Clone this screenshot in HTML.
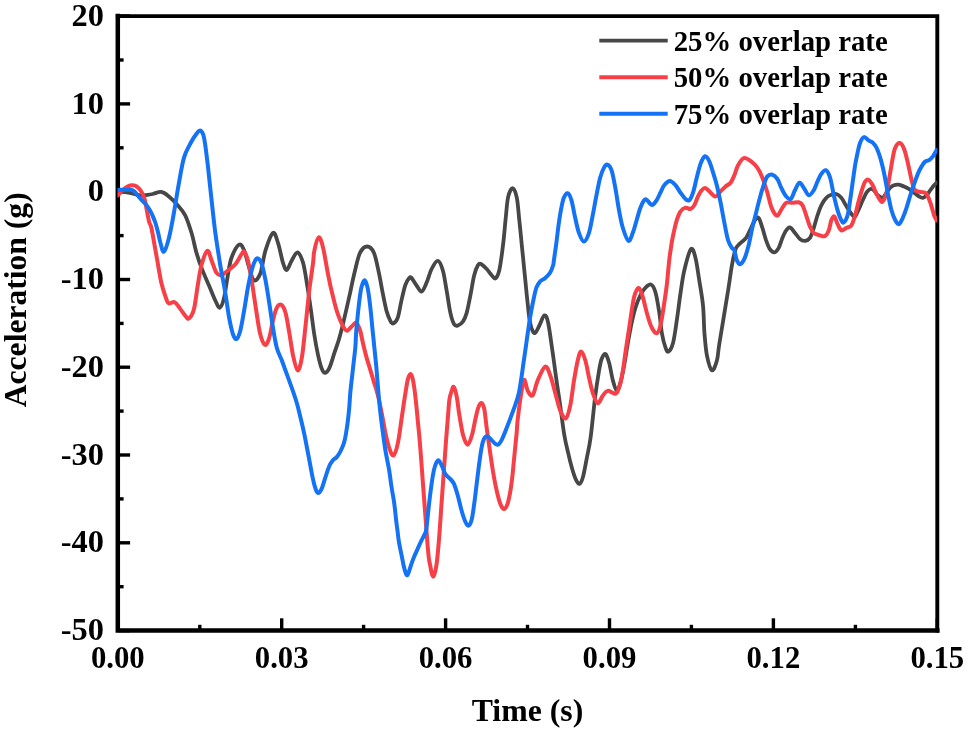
<!DOCTYPE html>
<html lang="en">
<head>
<meta charset="utf-8">
<title>Acceleration vs Time</title>
<style>
html,body{margin:0;padding:0;background:#fff;}
body{width:968px;height:734px;overflow:hidden;}
svg{display:block;filter:blur(0.45px);}
text{font-family:"Liberation Serif", "DejaVu Serif", serif;font-weight:bold;fill:#000;}
.ax{font-size:32.4px;}
.lg{font-size:29.6px;}
</style>
</head>
<body>
<svg width="968" height="734" viewBox="0 0 968 734">
<rect width="968" height="734" fill="#fff"/>
<defs><clipPath id="pc"><rect x="117.5" y="16.1" width="819.8" height="614.5"/></clipPath></defs>
<g stroke="#000" stroke-width="3.4" fill="none">
<line x1="117.8" y1="630.6" x2="117.8" y2="618.3"/>
<line x1="199.8" y1="630.6" x2="199.8" y2="624.8"/>
<line x1="281.7" y1="630.6" x2="281.7" y2="618.3"/>
<line x1="363.6" y1="630.6" x2="363.6" y2="624.8"/>
<line x1="445.6" y1="630.6" x2="445.6" y2="618.3"/>
<line x1="527.5" y1="630.6" x2="527.5" y2="624.8"/>
<line x1="609.5" y1="630.6" x2="609.5" y2="618.3"/>
<line x1="691.4" y1="630.6" x2="691.4" y2="624.8"/>
<line x1="773.4" y1="630.6" x2="773.4" y2="618.3"/>
<line x1="855.4" y1="630.6" x2="855.4" y2="624.8"/>
<line x1="937.3" y1="630.6" x2="937.3" y2="618.3"/>
<line x1="117.8" y1="16.1" x2="130.1" y2="16.1"/>
<line x1="117.8" y1="60.0" x2="123.6" y2="60.0"/>
<line x1="117.8" y1="103.9" x2="130.1" y2="103.9"/>
<line x1="117.8" y1="147.8" x2="123.6" y2="147.8"/>
<line x1="117.8" y1="191.7" x2="130.1" y2="191.7"/>
<line x1="117.8" y1="235.6" x2="123.6" y2="235.6"/>
<line x1="117.8" y1="279.5" x2="130.1" y2="279.5"/>
<line x1="117.8" y1="323.4" x2="123.6" y2="323.4"/>
<line x1="117.8" y1="367.2" x2="130.1" y2="367.2"/>
<line x1="117.8" y1="411.1" x2="123.6" y2="411.1"/>
<line x1="117.8" y1="455.0" x2="130.1" y2="455.0"/>
<line x1="117.8" y1="498.9" x2="123.6" y2="498.9"/>
<line x1="117.8" y1="542.8" x2="130.1" y2="542.8"/>
<line x1="117.8" y1="586.7" x2="123.6" y2="586.7"/>
<line x1="117.8" y1="630.6" x2="130.1" y2="630.6"/>
</g>
<g stroke="#000" fill="none" stroke-linecap="square">
<path stroke-width="3.9" d="M117.8 16.1H937.3V630.6"/>
<path stroke-width="4.5" d="M117.8 16.1V630.6H937.3"/>
</g>
<g fill="none" stroke-linejoin="round" stroke-linecap="round" stroke-width="3.6" clip-path="url(#pc)">
<path stroke="#474747" stroke-width="3.8" d="M117.8 192.5C119.0 192.4 122.6 191.8 125.0 192.0C127.4 192.2 129.7 193.0 132.0 193.5C134.3 194.0 136.9 194.9 139.0 195.2C141.1 195.5 143.6 195.4 144.6 195.4C145.6 195.4 143.8 195.5 145.1 195.2C146.4 195.0 149.9 194.5 152.6 194.0C155.3 193.4 158.7 191.5 161.4 192.0C164.1 192.4 166.2 194.3 168.9 196.5C171.6 198.7 175.0 202.1 177.7 205.3C180.4 208.4 182.9 210.7 185.2 215.3C187.5 219.9 189.6 226.6 191.5 232.8C193.4 239.1 194.8 247.0 196.5 252.9C198.2 258.7 199.4 262.5 201.5 267.9C203.6 273.4 206.7 280.1 209.0 285.5C211.3 290.9 213.5 296.8 215.3 300.5C217.1 304.2 218.4 308.2 219.8 307.7C221.3 307.2 222.8 303.1 224.1 297.6C225.4 292.2 226.6 281.8 227.9 275.1C229.1 268.4 229.7 262.6 231.6 257.5C233.5 252.4 237.0 245.8 239.1 244.6C241.2 243.4 242.5 246.5 244.2 250.4C245.8 254.3 247.5 262.9 249.2 267.9C250.8 273.0 252.3 279.6 254.2 280.5C256.1 281.3 258.6 278.0 260.5 273.0C262.3 267.9 263.4 257.1 265.5 250.4C267.6 243.7 270.9 234.1 273.0 232.8C275.1 231.6 276.3 237.9 278.0 242.9C279.7 247.9 281.6 258.4 283.0 262.9C284.5 267.4 285.3 270.4 286.8 269.9C288.2 269.5 290.0 263.3 291.8 260.4C293.6 257.5 295.7 252.0 297.6 252.4C299.4 252.8 301.5 257.8 303.1 262.9C304.6 268.0 305.6 275.5 306.8 283.0C308.1 290.4 309.3 299.0 310.6 307.7C311.9 316.4 313.1 327.3 314.4 335.3C315.6 343.2 316.9 349.7 318.1 355.3C319.4 361.0 320.7 366.2 321.9 369.1C323.1 372.0 323.9 373.1 325.1 372.9C326.4 372.7 327.9 371.2 329.4 367.9C331.0 364.5 332.8 357.8 334.4 352.8C336.1 347.8 337.7 344.0 339.4 337.8C341.2 331.5 343.3 322.9 345.0 315.4C346.8 308.0 348.4 300.4 350.1 292.9C351.7 285.3 353.4 277.0 355.1 270.3C356.7 263.6 358.1 256.7 360.1 252.7C362.1 248.8 364.8 246.5 367.1 246.5C369.4 246.5 371.9 248.4 373.9 252.7C375.8 257.1 377.4 266.1 378.9 272.8C380.4 279.5 381.4 286.6 382.7 292.9C383.9 299.1 385.2 305.8 386.4 310.4C387.7 315.0 389.1 318.3 390.2 320.5C391.3 322.6 391.9 323.9 393.2 323.5C394.4 323.0 396.3 321.8 397.7 317.9C399.1 314.1 400.2 305.8 401.5 300.4C402.7 295.0 404.0 289.0 405.2 285.3C406.5 281.7 407.9 279.6 409.0 278.3C410.0 277.1 410.2 276.7 411.5 277.8C412.7 279.0 414.8 283.0 416.5 285.3C418.2 287.6 419.9 292.0 421.5 291.6C423.2 291.2 424.9 286.6 426.5 282.8C428.2 279.1 429.7 272.7 431.6 269.0C433.4 265.4 435.9 260.6 437.8 260.8C439.7 261.0 441.4 265.4 442.8 270.3C444.3 275.2 445.3 283.3 446.6 290.4C447.9 297.5 449.1 307.3 450.4 312.9C451.6 318.6 452.9 322.1 454.1 324.2C455.4 326.3 456.4 325.9 457.9 325.5C459.3 325.0 461.4 323.8 462.9 321.7C464.4 319.6 465.4 317.3 466.7 312.9C467.9 308.5 469.2 301.6 470.4 295.4C471.7 289.1 472.9 280.3 474.2 275.3C475.4 270.3 476.8 267.2 477.9 265.3C479.1 263.4 479.5 263.4 481.0 264.0C482.4 264.7 484.9 267.2 486.7 269.0C488.5 270.9 490.3 273.8 491.7 275.3C493.2 276.9 494.2 279.2 495.5 278.3C496.8 277.5 498.0 275.8 499.3 270.3C500.5 264.8 502.0 253.6 503.0 245.2C504.1 236.9 504.7 228.1 505.5 220.2C506.4 212.2 506.9 202.9 508.0 197.6C509.2 192.2 511.1 188.1 512.5 188.1C514.0 188.1 515.7 192.2 516.8 197.6C517.9 202.9 518.5 212.2 519.3 220.2C520.2 228.1 521.0 236.9 521.8 245.2C522.7 253.6 523.5 261.9 524.3 270.3C525.2 278.7 526.0 287.4 526.8 295.4C527.7 303.3 528.5 312.3 529.3 317.9C530.2 323.6 530.9 326.7 531.9 329.2C532.8 331.7 533.9 333.6 535.1 333.0C536.4 332.4 537.8 328.4 539.4 325.5C540.9 322.5 542.9 315.9 544.4 315.4C545.9 315.0 546.8 316.7 548.2 323.0C549.5 329.2 551.3 343.2 552.7 352.8C554.1 362.3 555.2 371.6 556.5 380.4C557.7 389.1 558.9 396.3 560.2 405.4C561.5 414.6 563.0 427.2 564.3 435.0C565.6 442.9 566.8 447.2 568.1 452.6C569.3 458.0 570.6 463.3 571.8 467.6C573.1 472.0 574.3 476.2 575.6 478.9C576.8 481.6 578.1 484.4 579.3 483.9C580.6 483.5 581.9 480.8 583.1 476.4C584.4 472.0 585.6 464.1 586.9 457.6C588.1 451.1 589.2 447.9 590.6 437.6C592.0 427.2 593.9 406.6 595.3 395.4C596.8 384.2 598.1 376.4 599.1 370.3C600.2 364.3 600.6 361.8 601.6 359.0C602.7 356.3 604.1 353.4 605.4 354.0C606.6 354.7 607.9 358.4 609.1 362.8C610.4 367.2 611.6 375.8 612.9 380.4C614.2 385.0 615.4 390.0 616.7 390.4C617.9 390.8 619.2 387.0 620.4 382.9C621.7 378.7 622.9 372.0 624.2 365.3C625.4 358.6 626.7 349.9 627.9 342.7C629.2 335.6 630.5 328.5 631.7 322.7C633.0 316.8 634.0 312.2 635.5 307.6C636.9 303.0 638.8 298.4 640.5 295.1C642.2 291.8 643.7 289.3 645.5 287.6C647.3 285.8 649.6 283.7 651.3 284.6C652.9 285.4 654.2 287.9 655.5 292.6C656.9 297.3 658.2 306.0 659.3 312.7C660.3 319.3 660.8 326.9 661.8 332.7C662.8 338.6 664.4 344.6 665.6 347.8C666.7 350.9 667.3 352.4 668.6 351.5C669.8 350.7 671.7 348.0 673.1 342.7C674.5 337.5 675.6 328.5 676.8 320.2C678.1 311.8 679.3 301.0 680.6 292.6C681.9 284.2 682.6 277.3 684.4 270.0C686.1 262.8 689.2 251.1 691.0 249.1C692.9 247.1 694.1 252.7 695.5 257.9C696.9 263.1 698.0 272.5 699.3 280.5C700.5 288.4 702.2 296.8 703.0 305.5C703.9 314.2 703.8 324.4 704.4 332.7C705.1 341.0 705.7 349.0 706.9 355.3C708.2 361.6 710.3 369.5 711.9 370.3C713.6 371.2 715.7 364.9 717.0 360.3C718.2 355.7 717.6 354.4 719.5 342.7C721.3 331.1 726.1 303.4 728.1 290.5C730.2 277.6 730.6 272.3 731.9 265.4C733.1 258.5 734.4 252.7 735.6 249.1C736.9 245.6 737.7 246.0 739.4 244.1C741.1 242.2 744.1 240.6 746.1 237.9C748.0 235.2 749.6 230.8 751.1 227.9C752.5 224.9 753.6 222.0 754.8 220.3C756.1 218.7 757.3 216.6 758.6 217.8C759.9 219.1 761.1 224.1 762.4 227.9C763.6 231.6 764.9 236.8 766.1 240.4C767.4 243.9 768.5 247.2 769.9 249.2C771.3 251.2 772.9 252.6 774.4 252.4C775.9 252.2 777.3 250.3 778.7 247.9C780.0 245.5 781.2 240.8 782.4 237.9C783.7 235.0 784.9 232.1 786.2 230.4C787.4 228.6 788.5 226.9 789.9 227.4C791.4 227.8 793.3 230.9 795.0 232.9C796.6 234.8 798.3 237.8 800.0 239.1C801.6 240.5 803.3 241.1 805.0 240.9C806.7 240.7 808.5 240.1 810.0 237.9C811.5 235.7 812.5 231.6 813.8 227.9C815.0 224.1 816.3 219.1 817.5 215.3C818.8 211.6 819.8 208.2 821.3 205.3C822.7 202.4 824.6 199.5 826.3 197.8C828.0 196.0 829.6 195.4 831.3 194.8C833.0 194.1 834.7 193.5 836.3 194.0C838.0 194.5 839.9 196.1 841.3 197.8C842.8 199.4 843.9 201.9 845.1 204.0C846.4 206.1 847.6 208.4 848.9 210.3C850.1 212.2 851.6 214.3 852.6 215.3C853.7 216.4 854.1 217.6 855.1 216.6C856.2 215.5 857.6 211.8 858.9 209.0C860.2 206.3 861.4 203.0 862.7 200.3C863.9 197.6 865.2 194.6 866.4 192.7C867.7 190.9 868.9 189.4 870.2 189.0C871.4 188.6 872.7 189.2 873.9 190.2C875.2 191.3 876.2 194.0 877.7 195.3C879.2 196.5 881.3 198.2 882.7 197.8C884.2 197.3 885.2 194.4 886.5 192.7C887.7 191.1 889.0 189.0 890.2 187.7C891.5 186.5 892.6 185.7 894.0 185.2C895.4 184.7 896.8 184.5 898.5 184.7C900.2 184.9 902.3 185.8 904.0 186.5C905.8 187.2 907.4 187.9 909.0 189.0C910.7 190.0 912.4 191.5 914.1 192.7C915.7 194.0 917.6 195.7 919.1 196.5C920.5 197.3 921.6 198.0 922.8 197.8C924.1 197.6 925.3 196.5 926.6 195.3C927.9 194.0 929.1 191.9 930.4 190.2C931.6 188.6 933.1 186.5 934.1 185.2C935.2 184.0 936.2 183.1 936.6 182.7"/>
<path stroke="#f63f46" stroke-width="4.0" d="M117.8 195.4C118.3 194.8 119.8 193.0 121.0 191.8C122.2 190.6 123.5 189.2 124.8 188.3C126.0 187.4 127.3 186.6 128.5 186.1C129.7 185.6 131.1 185.4 132.2 185.3C133.3 185.2 134.1 185.4 135.0 185.7C135.9 186.0 136.7 186.5 137.6 187.3C138.5 188.1 139.6 189.1 140.5 190.3C141.4 191.6 142.2 193.1 143.0 194.8C143.8 196.5 144.4 198.4 145.0 200.6C145.6 202.8 145.9 205.4 146.4 208.0C146.9 210.6 147.4 213.6 147.9 216.2C148.4 218.8 149.0 221.6 149.6 223.5C150.2 225.4 150.2 222.5 151.4 227.8C152.5 233.1 154.7 246.2 156.4 255.4C158.1 264.6 159.7 275.7 161.4 283.0C163.1 290.3 165.2 295.9 166.4 299.3C167.7 302.7 167.5 302.9 168.9 303.4C170.3 303.9 172.8 301.2 174.7 302.2C176.6 303.1 178.5 306.7 180.2 308.9C182.0 311.2 183.8 314.1 185.2 315.7C186.7 317.3 187.5 319.6 189.0 318.5C190.4 317.3 192.5 314.5 194.0 308.9C195.5 303.4 196.5 292.4 197.8 285.1C199.0 277.8 199.9 270.7 201.5 265.0C203.1 259.3 205.6 251.7 207.3 250.9C209.0 250.1 210.0 256.7 211.6 260.4C213.1 264.1 214.9 270.5 216.6 273.0C218.2 275.4 219.7 275.4 221.6 275.0C223.5 274.5 225.6 272.2 227.9 270.5C230.2 268.7 233.1 266.9 235.4 264.2C237.7 261.5 240.2 256.2 241.6 254.2C243.1 252.1 243.1 250.6 244.2 251.6C245.2 252.7 246.7 255.6 247.9 260.4C249.2 265.2 250.4 273.0 251.7 280.5C252.9 287.9 254.1 296.5 255.4 305.2C256.8 313.9 258.4 326.1 259.9 332.7C261.5 339.4 263.4 343.9 265.0 344.8C266.5 345.6 267.9 341.9 269.2 337.8C270.6 333.7 271.7 325.2 273.0 320.2C274.2 315.2 275.4 310.3 276.8 307.7C278.1 305.1 279.8 303.8 281.3 304.7C282.7 305.5 284.2 308.0 285.5 312.7C286.9 317.4 288.0 325.6 289.3 332.7C290.5 339.9 291.7 349.0 293.0 355.3C294.4 361.6 296.1 369.9 297.6 370.4C299.0 370.8 300.5 365.3 301.8 357.8C303.2 350.3 304.3 336.5 305.6 325.2C306.8 313.9 308.1 300.6 309.3 290.1C310.6 279.7 312.3 269.2 313.1 262.5C313.9 255.9 313.4 254.6 314.4 250.4C315.3 246.2 317.2 237.8 318.6 237.4C320.1 236.9 321.6 241.6 323.1 247.9C324.7 254.2 326.5 266.8 328.2 275.1C329.8 283.4 331.5 291.0 333.2 297.6C334.8 304.3 336.5 310.4 338.2 315.2C339.9 320.0 341.7 323.9 343.2 326.5C344.7 329.1 345.4 330.9 347.0 330.7C348.5 330.6 351.0 326.8 352.6 325.5C354.1 324.2 355.1 322.1 356.3 323.0C357.6 323.8 359.0 327.2 360.1 330.5C361.2 333.7 361.8 338.0 362.8 342.5C363.9 347.1 365.3 353.0 366.6 357.6C367.9 362.2 369.1 365.9 370.4 370.1C371.6 374.3 372.9 378.5 374.1 382.7C375.4 386.8 376.6 390.2 377.9 395.2C379.1 400.2 380.4 406.5 381.6 412.7C382.9 419.0 384.2 427.0 385.4 432.8C386.7 438.7 387.8 444.1 389.2 447.9C390.5 451.6 392.0 456.2 393.4 455.4C394.9 454.5 396.6 449.1 397.9 442.8C399.3 436.6 400.5 426.1 401.7 417.8C403.0 409.4 404.4 399.2 405.5 392.7C406.5 386.2 407.1 382.0 408.0 378.9C408.8 375.8 409.6 373.7 410.5 373.9C411.3 374.1 412.2 376.2 413.0 380.2C413.8 384.1 414.7 390.6 415.5 397.7C416.3 404.8 417.2 414.0 418.0 422.8C418.8 431.6 418.9 429.9 420.5 450.4C422.1 470.8 426.0 526.2 427.6 545.4C429.2 564.6 429.2 560.2 430.2 565.4C431.1 570.7 432.1 576.7 433.2 576.7C434.2 576.7 435.5 571.5 436.4 565.4C437.4 559.4 438.1 550.4 438.9 540.4C439.8 530.3 440.6 517.0 441.4 505.3C442.3 493.6 443.2 480.2 443.9 470.2C444.7 460.1 445.1 453.4 445.7 445.1C446.3 436.7 447.1 427.5 447.7 420.0C448.3 412.5 448.7 405.2 449.3 400.2C450.0 395.2 451.1 392.4 451.9 390.2C452.6 388.0 453.0 385.9 453.9 387.2C454.7 388.4 456.0 393.0 456.9 397.7C457.8 402.4 458.3 409.0 459.4 415.3C460.4 421.5 461.8 430.4 463.1 435.3C464.5 440.2 466.2 444.8 467.7 444.8C469.1 444.8 470.6 439.8 471.9 435.3C473.3 430.8 474.5 422.6 475.7 417.8C476.8 413.0 477.6 408.9 478.7 406.5C479.7 404.1 481.0 402.6 481.9 403.2C482.9 403.8 483.6 405.7 484.5 410.2C485.3 414.8 485.6 420.3 487.0 430.3C488.4 440.3 491.2 460.2 492.8 470.2C494.4 480.1 495.3 484.6 496.6 490.2C497.9 495.9 499.1 500.9 500.4 504.0C501.6 507.1 502.9 509.2 504.1 509.0C505.4 508.8 506.6 507.1 507.9 502.7C509.1 498.4 510.6 490.2 511.6 482.7C512.7 475.2 513.3 466.0 514.2 457.6C515.0 449.3 516.1 438.7 516.7 432.5C517.2 426.3 517.0 425.8 517.6 420.5C518.2 415.1 519.3 406.3 520.1 400.4C521.0 394.6 521.9 388.8 522.6 385.4C523.4 381.9 523.8 379.0 524.6 379.9C525.5 380.7 526.3 387.8 527.6 390.4C529.0 393.0 531.0 397.1 532.7 395.4C534.3 393.7 535.6 385.2 537.7 380.4C539.8 375.6 543.1 367.4 545.2 366.6C547.3 365.7 548.5 371.0 550.2 375.3C551.9 379.7 553.6 387.0 555.2 392.9C556.9 398.7 558.5 406.2 560.2 410.5C562.0 414.7 564.1 419.3 565.8 418.5C567.4 417.6 568.9 411.8 570.3 405.4C571.6 399.1 572.8 387.9 574.0 380.4C575.3 372.8 576.6 365.1 577.8 360.3C579.0 355.5 579.8 351.5 581.1 351.5C582.3 351.5 584.0 355.9 585.3 360.3C586.7 364.7 587.8 372.4 589.1 377.9C590.3 383.3 591.4 388.6 592.8 392.9C594.3 397.2 596.2 403.0 597.9 403.4C599.5 403.8 601.2 397.5 602.9 395.4C604.5 393.3 606.2 391.3 607.9 390.9C609.6 390.5 611.4 392.6 612.9 392.9C614.4 393.2 615.4 394.6 616.7 392.9C617.9 391.2 619.4 386.6 620.4 382.9C621.5 379.1 622.1 375.3 622.9 370.3C623.8 365.3 624.4 359.9 625.4 352.8C626.5 345.7 627.9 336.1 629.2 327.7C630.5 319.3 631.9 308.5 633.0 302.6C634.0 296.8 634.4 295.0 635.5 292.6C636.5 290.2 638.0 287.2 639.2 288.1C640.5 288.9 641.7 293.5 643.0 297.6C644.2 301.7 645.3 307.6 646.8 312.7C648.2 317.7 650.1 324.3 651.8 327.7C653.4 331.1 655.3 333.6 656.8 333.2C658.2 332.8 659.3 330.3 660.5 325.2C661.8 320.1 663.3 309.3 664.3 302.6C665.3 295.9 666.0 292.1 666.8 285.1C667.6 278.0 668.4 267.4 669.2 260.4C670.0 253.4 670.9 247.9 671.7 242.8C672.5 237.8 673.4 234.1 674.2 230.3C675.0 226.5 675.7 223.4 676.7 220.3C677.8 217.1 679.0 213.6 680.5 211.5C681.9 209.4 683.8 208.2 685.5 207.7C687.2 207.3 689.0 209.4 690.5 209.0C692.0 208.6 693.0 207.3 694.3 205.2C695.5 203.1 696.8 199.0 698.0 196.4C699.3 193.9 700.5 191.6 701.8 190.2C703.0 188.8 704.1 187.8 705.6 188.2C707.0 188.6 708.9 191.3 710.6 192.7C712.2 194.1 713.9 196.7 715.6 196.4C717.3 196.2 718.9 193.1 720.6 191.4C722.3 189.8 723.9 187.9 725.6 186.4C727.3 185.0 729.2 184.5 730.6 182.7C732.1 180.8 733.1 178.1 734.4 175.1C735.6 172.2 736.6 167.9 738.2 165.1C739.7 162.3 741.8 158.7 743.9 158.1C746.1 157.5 748.8 159.8 751.1 161.4C753.3 163.0 755.5 165.0 757.3 167.7C759.2 170.4 760.7 173.5 762.4 177.7C764.0 181.9 765.9 187.9 767.4 192.7C768.8 197.6 769.9 203.0 771.1 206.5C772.4 210.1 773.8 212.6 774.9 214.1C776.0 215.5 776.8 216.2 777.9 215.3C779.0 214.5 780.3 211.1 781.7 209.0C783.0 207.0 784.4 203.8 786.2 202.8C788.0 201.7 790.4 202.9 792.4 202.8C794.5 202.7 797.0 201.9 798.7 202.3C800.4 202.7 801.2 203.1 802.5 205.3C803.7 207.5 805.0 211.8 806.2 215.3C807.5 218.9 808.7 223.7 810.0 226.6C811.3 229.5 812.1 231.4 813.8 232.9C815.4 234.3 818.2 234.8 820.0 235.4C821.9 235.9 823.6 237.0 825.0 236.1C826.5 235.3 827.8 233.0 828.8 230.4C829.9 227.7 830.4 222.6 831.3 220.3C832.2 218.0 833.3 215.9 834.3 216.6C835.4 217.2 836.4 221.8 837.6 224.1C838.8 226.4 839.9 229.7 841.3 230.4C842.8 231.0 844.7 228.7 846.4 227.9C848.0 227.0 849.9 227.4 851.4 225.3C852.8 223.3 853.9 219.5 855.1 215.3C856.4 211.1 857.6 204.9 858.9 200.3C860.2 195.7 861.6 190.9 862.7 187.7C863.7 184.6 864.2 182.8 865.2 181.5C866.1 180.1 867.2 179.1 868.4 179.7C869.7 180.3 871.4 182.8 872.7 185.2C874.0 187.6 875.2 191.5 876.5 194.0C877.7 196.5 879.2 199.0 880.2 200.3C881.3 201.5 881.7 202.8 882.7 201.5C883.8 200.3 885.2 197.6 886.5 192.7C887.7 187.9 889.2 178.5 890.2 172.7C891.3 166.8 891.9 161.8 892.8 157.6C893.6 153.5 894.1 150.0 895.3 147.6C896.4 145.2 898.3 142.9 899.8 143.1C901.2 143.3 902.7 145.6 904.0 148.9C905.4 152.1 906.5 157.4 907.8 162.7C909.0 167.9 910.5 175.8 911.6 180.2C912.6 184.6 913.0 187.1 914.1 189.0C915.1 190.9 916.4 191.0 917.8 191.5C919.3 192.0 921.4 191.8 922.8 192.2C924.3 192.7 925.3 192.2 926.6 194.0C927.9 195.8 929.1 199.2 930.4 202.8C931.6 206.3 933.1 212.4 934.1 215.3C935.2 218.2 936.2 219.5 936.6 220.3"/>
<path stroke="#1472f5" stroke-width="4.0" d="M117.8 189.9C119.0 189.9 122.7 189.8 124.8 189.8C126.9 189.8 129.0 189.6 130.5 189.8C132.0 190.0 132.9 190.4 134.0 191.2C135.1 192.0 136.0 193.4 137.2 194.8C138.4 196.2 139.8 198.0 141.3 199.7C142.8 201.4 144.9 203.2 146.3 204.9C147.7 206.6 148.5 207.9 149.6 209.8C150.7 211.7 151.9 214.1 152.9 216.4C153.9 218.7 154.7 220.7 155.6 223.5C156.5 226.3 157.4 229.7 158.2 233.0C159.0 236.3 159.6 240.4 160.6 243.5C161.6 246.6 162.5 252.6 163.9 251.6C165.3 250.7 167.3 244.3 168.9 237.9C170.6 231.4 172.3 222.0 173.9 212.8C175.6 203.6 177.3 191.9 179.0 182.7C180.6 173.5 182.1 164.1 184.0 157.6C185.9 151.1 188.2 147.8 190.2 143.8C192.3 139.9 194.8 136.0 196.5 133.8C198.2 131.6 199.0 129.9 200.3 130.5C201.5 131.2 202.8 131.8 204.0 137.6C205.3 143.3 206.5 154.7 207.8 165.1C209.0 175.6 210.3 189.0 211.6 200.2C212.8 211.5 213.9 222.0 215.3 232.8C216.8 243.7 218.7 255.4 220.3 265.4C222.0 275.5 223.9 284.3 225.3 293.0C226.8 301.7 227.9 310.9 229.1 317.7C230.4 324.5 231.6 330.4 232.9 334.0C234.1 337.6 235.4 339.6 236.6 339.0C237.9 338.4 239.1 335.0 240.4 330.2C241.6 325.4 242.9 317.3 244.2 310.2C245.4 303.1 246.7 294.3 247.9 287.6C249.2 280.9 250.4 274.7 251.7 270.1C252.9 265.5 254.3 261.9 255.4 260.0C256.6 258.1 257.4 258.1 258.4 258.8C259.5 259.4 260.5 260.2 261.7 263.8C262.9 267.3 264.2 273.6 265.5 280.1C266.7 286.6 268.0 294.7 269.2 302.7C270.5 310.6 271.7 320.2 273.0 327.7C274.2 335.3 275.3 342.4 276.8 347.8C278.2 353.2 280.1 355.9 281.8 360.3C283.4 364.7 285.1 369.5 286.8 374.1C288.5 378.7 290.1 383.1 291.8 387.9C293.5 392.7 295.3 397.9 296.8 403.0C298.3 408.0 299.3 412.8 300.6 418.0C301.8 423.2 302.9 427.4 304.3 434.1C305.7 440.7 307.5 450.6 308.9 457.9C310.3 465.2 311.6 472.7 312.7 477.9C313.8 483.2 314.8 486.7 315.7 489.2C316.6 491.7 317.2 493.0 318.2 493.0C319.2 493.0 320.3 491.7 321.5 489.2C322.6 486.7 324.0 481.7 325.2 477.9C326.5 474.2 327.7 469.6 329.0 466.7C330.2 463.7 331.5 461.9 332.7 460.4C334.0 458.8 335.3 458.8 336.5 457.4C337.8 455.9 339.0 454.0 340.3 451.6C341.5 449.2 343.0 446.4 344.0 442.8C345.1 439.3 345.7 435.7 346.5 430.3C347.4 424.9 348.4 416.5 349.0 410.2C349.7 404.0 349.7 399.4 350.3 392.7C350.9 386.0 352.0 377.6 352.8 370.1C353.6 362.6 354.7 354.2 355.3 347.6C355.9 340.9 355.7 337.5 356.3 330.5C356.9 323.5 358.0 312.5 358.8 305.4C359.7 298.3 360.4 292.0 361.3 287.9C362.3 283.7 363.6 280.3 364.6 280.3C365.6 280.3 366.7 283.7 367.6 287.9C368.5 292.0 369.3 298.3 370.1 305.4C371.0 312.5 372.0 323.9 372.6 330.5C373.3 337.1 373.5 338.4 374.1 345.0C374.8 351.7 375.9 362.2 376.6 370.1C377.3 378.1 377.8 385.6 378.4 392.7C379.0 399.8 379.6 406.1 380.4 412.7C381.1 419.4 382.1 426.5 382.9 432.8C383.7 439.1 384.4 444.1 385.4 450.4C386.5 456.6 388.1 464.2 389.2 470.4C390.2 476.7 390.8 482.5 391.7 488.0C392.5 493.4 393.5 497.8 394.2 503.0C394.9 508.2 395.5 514.5 396.0 519.0C396.5 523.5 396.9 526.1 397.4 530.0C397.9 533.9 398.3 538.3 399.0 542.4C399.7 546.5 400.7 550.9 401.5 554.8C402.3 558.6 402.9 562.5 403.6 565.5C404.3 568.5 405.1 571.4 405.7 573.0C406.3 574.6 406.8 575.5 407.3 575.3C407.9 575.0 408.4 573.0 409.0 571.5C409.6 570.0 409.8 568.8 410.6 566.4C411.4 564.0 412.6 560.4 413.9 557.3C415.1 554.2 416.9 550.6 418.1 547.8C419.4 545.0 420.3 543.0 421.4 540.7C422.5 538.4 423.9 536.1 424.7 534.1C425.5 532.1 425.7 533.3 426.4 528.5C427.1 523.7 428.1 512.5 428.9 505.3C429.7 498.0 430.6 491.0 431.4 485.2C432.2 479.3 433.1 473.9 433.9 470.2C434.7 466.4 435.6 464.2 436.4 462.6C437.3 461.0 438.0 460.0 438.9 460.6C439.9 461.2 441.1 464.2 442.2 466.4C443.2 468.6 443.9 471.8 445.2 473.9C446.5 476.0 448.7 477.3 450.2 478.9C451.7 480.6 452.7 481.2 454.0 483.9C455.2 486.7 456.5 490.8 457.7 495.2C459.0 499.6 460.2 505.9 461.5 510.3C462.7 514.7 464.1 519.0 465.3 521.6C466.4 524.1 467.2 526.0 468.3 525.8C469.3 525.6 470.6 523.7 471.5 520.3C472.5 516.9 473.2 511.1 474.0 505.3C474.9 499.4 475.7 491.9 476.5 485.2C477.4 478.5 478.2 471.4 479.0 465.1C479.9 458.9 480.7 452.0 481.6 447.6C482.4 443.2 483.1 440.7 484.1 438.8C485.0 436.9 486.1 436.1 487.3 436.3C488.6 436.5 490.2 438.8 491.6 440.1C492.9 441.3 494.2 443.1 495.3 443.8C496.5 444.6 497.3 445.2 498.4 444.6C499.4 443.9 500.4 442.3 501.6 440.1C502.8 437.8 503.1 437.1 505.4 431.3C507.6 425.5 512.9 411.8 515.1 405.4C517.4 399.0 517.8 397.5 518.9 392.9C519.9 388.3 520.5 383.3 521.4 377.9C522.2 372.4 523.0 366.2 523.9 360.3C524.7 354.5 525.6 348.6 526.4 342.7C527.2 336.9 528.1 330.6 528.9 325.2C529.7 319.8 530.6 314.7 531.4 310.2C532.2 305.6 533.1 301.4 533.9 297.6C534.7 293.9 535.4 290.3 536.4 287.6C537.5 284.9 538.7 282.9 540.2 281.3C541.6 279.7 543.5 279.5 545.2 278.1C546.9 276.6 548.9 274.7 550.2 272.5C551.5 270.4 552.6 267.0 553.2 265.0C553.8 263.0 553.3 264.1 553.9 260.4C554.4 256.7 555.5 249.1 556.4 242.8C557.2 236.6 558.0 228.6 558.9 222.8C559.7 216.9 560.5 211.9 561.4 207.7C562.2 203.6 562.8 200.1 563.9 197.7C564.9 195.3 566.4 192.8 567.6 193.2C568.9 193.6 570.2 196.1 571.4 200.2C572.7 204.3 573.9 212.3 575.2 217.8C576.4 223.2 577.5 228.8 578.9 232.8C580.4 236.8 582.3 241.6 583.9 241.6C585.6 241.6 587.5 237.2 589.0 232.8C590.4 228.4 591.5 221.5 592.7 215.3C594.0 209.0 595.2 201.5 596.5 195.2C597.7 188.9 599.0 182.2 600.2 177.6C601.5 173.0 602.8 169.8 604.0 167.6C605.2 165.4 606.0 164.2 607.3 164.6C608.5 165.0 610.2 166.3 611.5 170.1C612.9 174.0 614.0 181.0 615.3 187.7C616.5 194.4 617.8 203.6 619.0 210.2C620.3 216.9 621.3 222.7 622.8 227.8C624.4 232.9 626.7 240.0 628.3 240.8C630.0 241.7 631.5 236.2 632.8 232.8C634.2 229.4 635.3 224.5 636.6 220.3C637.9 216.1 639.1 211.1 640.4 207.7C641.6 204.4 643.1 201.5 644.1 200.2C645.2 198.9 645.6 199.1 646.6 199.7C647.7 200.3 649.3 203.1 650.4 204.0C651.4 204.8 651.9 205.4 652.9 204.7C653.9 204.1 655.4 202.2 656.7 200.2C657.9 198.2 659.2 195.2 660.4 192.7C661.7 190.2 662.6 187.1 664.2 185.2C665.8 183.2 668.1 180.9 669.9 180.9C671.8 180.9 673.7 183.2 675.5 185.2C677.2 187.1 678.8 190.4 680.5 192.7C682.2 195.0 684.0 197.7 685.5 199.0C687.0 200.2 688.0 201.3 689.3 200.2C690.5 199.2 691.8 196.4 693.0 192.7C694.3 188.9 695.5 182.4 696.8 177.6C698.0 172.8 699.2 167.4 700.5 163.9C701.9 160.3 703.6 156.7 705.1 156.3C706.5 155.9 708.0 158.6 709.3 161.3C710.7 164.1 711.8 168.7 713.1 172.6C714.3 176.6 715.6 180.2 716.8 185.2C718.1 190.2 719.3 196.4 720.6 202.7C721.9 209.0 723.1 216.5 724.4 222.8C725.6 229.0 726.9 236.2 728.1 240.3C729.4 244.5 730.8 246.2 731.9 247.9C732.9 249.5 733.6 248.3 734.4 250.4C735.2 252.5 735.9 258.1 736.9 260.4C737.9 262.7 738.8 264.6 740.2 264.2C741.5 263.7 743.4 261.1 744.8 257.9C746.2 254.8 747.3 250.4 748.6 245.4C749.8 240.4 751.1 233.3 752.3 227.9C753.6 222.4 754.8 217.8 756.1 212.8C757.3 207.8 758.6 202.4 759.9 197.8C761.1 193.2 762.4 188.8 763.6 185.2C764.9 181.7 765.9 178.2 767.4 176.4C768.8 174.7 770.7 174.3 772.4 174.7C774.1 175.1 775.9 176.8 777.4 179.0C778.9 181.1 779.7 184.8 781.2 187.7C782.6 190.7 784.6 194.6 786.2 196.5C787.8 198.4 789.2 200.1 790.7 199.0C792.2 198.0 793.5 193.0 795.0 190.2C796.4 187.5 798.0 183.1 799.5 182.7C800.9 182.3 802.2 185.6 803.7 187.7C805.3 189.8 807.1 194.8 808.7 195.3C810.4 195.7 812.3 192.5 813.8 190.2C815.2 187.9 816.3 184.2 817.5 181.5C818.8 178.7 819.9 175.8 821.3 173.9C822.7 172.1 824.3 169.6 825.8 170.2C827.3 170.8 828.7 173.5 830.1 177.7C831.4 181.9 832.6 189.8 833.8 195.3C835.1 200.7 836.3 206.1 837.6 210.3C838.8 214.5 840.3 218.3 841.3 220.3C842.4 222.3 842.8 223.2 843.9 222.3C844.9 221.5 846.6 219.0 847.6 215.3C848.7 211.6 849.3 205.7 850.1 200.3C851.0 194.8 851.8 188.6 852.6 182.7C853.5 176.9 854.3 170.2 855.1 165.2C856.0 160.2 856.8 156.4 857.6 152.6C858.5 148.9 859.1 145.2 860.2 142.6C861.2 140.0 862.5 137.4 863.9 137.1C865.4 136.7 867.5 139.7 868.9 140.6C870.4 141.5 871.4 141.4 872.7 142.6C873.9 143.8 875.2 145.1 876.5 147.6C877.7 150.1 879.0 153.5 880.2 157.6C881.5 161.8 882.7 166.8 884.0 172.7C885.2 178.5 886.5 186.5 887.7 192.7C889.0 199.0 890.2 205.7 891.5 210.3C892.8 214.9 894.0 218.0 895.3 220.3C896.5 222.6 897.8 224.5 899.0 224.1C900.3 223.7 901.5 220.5 902.8 217.8C904.0 215.1 905.3 211.6 906.5 207.8C907.8 204.0 909.0 199.2 910.3 195.3C911.6 191.3 912.8 187.5 914.1 184.0C915.3 180.4 916.6 176.9 917.8 173.9C919.1 171.0 920.3 168.5 921.6 166.4C922.8 164.3 924.1 162.4 925.3 161.4C926.6 160.4 927.9 161.0 929.1 160.2C930.4 159.3 931.6 158.1 932.9 156.4C934.1 154.7 936.0 151.2 936.6 150.1"/>
</g>
<g class="ax">
<text x="117.8" y="668.0" text-anchor="middle" textLength="53.8" lengthAdjust="spacingAndGlyphs">0.00</text>
<text x="281.7" y="668.0" text-anchor="middle" textLength="53.8" lengthAdjust="spacingAndGlyphs">0.03</text>
<text x="445.6" y="668.0" text-anchor="middle" textLength="53.8" lengthAdjust="spacingAndGlyphs">0.06</text>
<text x="609.5" y="668.0" text-anchor="middle" textLength="53.8" lengthAdjust="spacingAndGlyphs">0.09</text>
<text x="773.4" y="668.0" text-anchor="middle" textLength="53.8" lengthAdjust="spacingAndGlyphs">0.12</text>
<text x="937.3" y="668.0" text-anchor="middle" textLength="53.8" lengthAdjust="spacingAndGlyphs">0.15</text>
<text x="104.0" y="25.7" text-anchor="end">20</text>
<text x="104.0" y="113.5" text-anchor="end">10</text>
<text x="104.0" y="201.3" text-anchor="end">0</text>
<text x="104.0" y="289.1" text-anchor="end">-10</text>
<text x="104.0" y="376.8" text-anchor="end">-20</text>
<text x="104.0" y="464.6" text-anchor="end">-30</text>
<text x="104.0" y="552.4" text-anchor="end">-40</text>
<text x="104.0" y="640.2" text-anchor="end">-50</text>
<text x="527.5" y="720.6" text-anchor="middle" style="font-size:31.8px">Time (s)</text>
<text transform="translate(25.7 299.8) rotate(-90)" text-anchor="middle" style="font-size:31.6px">Acceleration (g)</text>
</g>
<g fill="none" stroke-width="3.6">
<line x1="599.3" y1="40.7" x2="667.7" y2="40.7" stroke="#474747" stroke-width="3.8"/>
<line x1="599.3" y1="77.3" x2="667.7" y2="77.3" stroke="#f63f46" stroke-width="4.0"/>
<line x1="599.3" y1="113.7" x2="667.7" y2="113.7" stroke="#1472f5" stroke-width="4.0"/>
</g>
<g class="lg">
<text x="673.7" y="50.8" textLength="214.0" lengthAdjust="spacingAndGlyphs">25% overlap rate</text>
<text x="673.7" y="87.4" textLength="214.0" lengthAdjust="spacingAndGlyphs">50% overlap rate</text>
<text x="673.7" y="124.0" textLength="214.0" lengthAdjust="spacingAndGlyphs">75% overlap rate</text>
</g>
</svg>
</body>
</html>
